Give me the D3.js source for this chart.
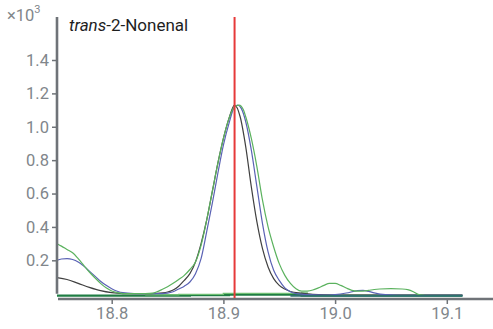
<!DOCTYPE html>
<html>
<head>
<meta charset="utf-8">
<script src="https://cdn.jsdelivr.net/npm/d3@7/dist/d3.min.js"></script>
<style>
  html, body { margin: 0; padding: 0; background: #fff; }
  svg { display: block; font-family: Roboto, "Noto Sans", sans-serif; }
</style>
</head>
<body>
<svg id="chart" width="493" height="329"></svg>
<script>
// Retention time (min) ticks and intensity ticks (×10³)
const xTicks = [18.8, 18.9, 19.0, 19.1];
const yTicks = [0.2, 0.4, 0.6, 0.8, 1.0, 1.2, 1.4];
const markerRT = 18.91;
const compound = "trans-2-Nonenal";

// Extracted ion traces: [retention time, intensity ×10³]
const traceBlack = [
  [18.751, 0.096], [18.76, 0.085], [18.77, 0.062], [18.78, 0.038], [18.79, 0.018],
  [18.80, 0.006], [18.81, 0.001], [18.82, 0], [18.83, 0], [18.84, 0.002],
  [18.85, 0.010], [18.855, 0.022], [18.86, 0.045], [18.865, 0.080], [18.87, 0.12],
  [18.875, 0.19], [18.88, 0.30], [18.885, 0.44], [18.89, 0.61], [18.895, 0.78],
  [18.90, 0.93], [18.905, 1.05], [18.91, 1.13], [18.915, 1.06], [18.92, 0.88],
  [18.925, 0.64], [18.93, 0.43], [18.935, 0.27], [18.94, 0.16], [18.945, 0.09],
  [18.95, 0.05], [18.955, 0.028], [18.96, 0.013], [18.97, 0.003], [18.98, -0.004],
  [19.00, -0.008], [19.114, -0.008]
];
const traceBlue = [
  [18.751, 0.200], [18.755, 0.208], [18.76, 0.21], [18.765, 0.205], [18.77, 0.19],
  [18.775, 0.165], [18.78, 0.135], [18.785, 0.105], [18.79, 0.075], [18.795, 0.05],
  [18.80, 0.03], [18.805, 0.015], [18.81, 0.006], [18.82, 0.001], [18.83, 0],
  [18.84, 0], [18.85, 0.004], [18.855, 0.012], [18.86, 0.028], [18.865, 0.045],
  [18.87, 0.07], [18.875, 0.12], [18.88, 0.21], [18.885, 0.37], [18.89, 0.54],
  [18.895, 0.72], [18.90, 0.89], [18.905, 1.02], [18.91, 1.12], [18.913, 1.13],
  [18.916, 1.11], [18.92, 1.03], [18.925, 0.86], [18.93, 0.64], [18.935, 0.42],
  [18.94, 0.25], [18.945, 0.14], [18.95, 0.08], [18.955, 0.035], [18.96, 0.012],
  [18.965, 0.0], [18.975, -0.006], [18.99, -0.008], [19.00, -0.005], [19.01, 0.004],
  [19.02, 0.018], [19.025, 0.02], [19.03, 0.014], [19.035, 0.005], [19.045, -0.006],
  [19.06, -0.01], [19.114, -0.01]
];
const traceGreen = [
  [18.751, 0.30], [18.755, 0.285], [18.76, 0.265], [18.765, 0.245], [18.77, 0.21],
  [18.775, 0.17], [18.78, 0.13], [18.785, 0.095], [18.79, 0.062], [18.795, 0.035],
  [18.80, 0.016], [18.805, 0.006], [18.81, 0.001], [18.82, 0], [18.83, 0],
  [18.837, 0.003], [18.84, 0.010], [18.845, 0.025], [18.85, 0.042], [18.855, 0.062],
  [18.86, 0.085], [18.865, 0.11], [18.87, 0.145], [18.875, 0.19], [18.88, 0.29],
  [18.885, 0.44], [18.89, 0.61], [18.895, 0.78], [18.90, 0.93], [18.905, 1.05],
  [18.91, 1.12], [18.914, 1.13], [18.918, 1.10], [18.92, 1.06], [18.925, 0.93],
  [18.93, 0.76], [18.935, 0.56], [18.94, 0.40], [18.945, 0.28], [18.95, 0.18],
  [18.955, 0.11], [18.96, 0.062], [18.965, 0.03], [18.97, 0.015], [18.975, 0.016],
  [18.98, 0.022], [18.985, 0.035], [18.99, 0.05], [18.995, 0.062], [19.00, 0.062],
  [19.005, 0.05], [19.01, 0.034], [19.015, 0.02], [19.02, 0.015], [19.025, 0.016],
  [19.03, 0.02], [19.035, 0.025], [19.04, 0.028], [19.05, 0.03], [19.06, 0.028],
  [19.065, 0.024], [19.07, 0.012], [19.075, -0.006], [19.08, -0.01]
];
// Near-zero qualifier traces along the baseline
const traceDarkGreen = [
  [18.751, -0.012], [18.87, -0.008], [18.905, -0.006], [18.95, -0.005], [18.97, -0.012], [19.114, -0.012]
];
const tracePaleGreen = [
  [18.83, -0.006], [18.86, -0.004], [18.90, 0.002], [18.97, 0.004], [18.975, -0.008]
];
const traceTeal = [
  [18.96, -0.013], [19.114, -0.013]
];

const svg = d3.select("#chart");

const x = d3.scaleLinear().domain([18.8, 19.1]).range([111.7, 446.8]);
const y = d3.scaleLinear().domain([0, 1.4]).range([293.7, 60]);

const axisColor = "#6f7378";
const labelColor = "#81868b";

// Traces
const line = d3.line()
  .x(d => x(d[0]))
  .y(d => y(d[1]))
  .curve(d3.curveMonotoneX);
const stepLine = d3.line()
  .x(d => x(d[0]))
  .y(d => y(d[1]))
  .curve(d3.curveStepAfter);

svg.append("path").datum(traceDarkGreen).attr("d", stepLine)
  .attr("fill", "none").attr("stroke", "#1f7d44").attr("stroke-width", 2.2);
svg.append("path").datum(tracePaleGreen).attr("d", stepLine)
  .attr("fill", "none").attr("stroke", "#6fbf73").attr("stroke-width", 1.4);

const series = [
  { data: traceBlack, color: "#404040" },
  { data: traceBlue, color: "#5a62b4" },
  { data: traceGreen, color: "#5bb25e" }
];
series.forEach(s => {
  svg.append("path").datum(s.data).attr("d", line)
    .attr("fill", "none").attr("stroke", s.color).attr("stroke-width", 1.2);
});

svg.append("path").datum(traceTeal).attr("d", stepLine)
  .attr("fill", "none").attr("stroke", "#2e7070").attr("stroke-width", 1.8);

// Y axis
const yAxis = svg.append("g").attr("transform", "translate(57,0)")
  .call(d3.axisLeft(y).tickValues(yTicks).tickSize(5).tickPadding(3)
    .tickFormat(d3.format(".1f")));
yAxis.select(".domain").remove();
yAxis.selectAll(".tick line").attr("stroke", axisColor).attr("stroke-width", 1.5);
yAxis.selectAll(".tick text").attr("fill", labelColor)
  .style("font-size", "16.5px").style("font-family", "Roboto, sans-serif");
svg.append("line").attr("x1", 57).attr("x2", 57).attr("y1", 17).attr("y2", y(0))
  .attr("stroke", axisColor).attr("stroke-width", 2.6);

// X axis
const xAxis = svg.append("g").attr("transform", "translate(0,299)")
  .call(d3.axisBottom(x).tickValues(xTicks).tickSize(5).tickPadding(3)
    .tickFormat(d3.format(".1f")));
xAxis.select(".domain").remove();
xAxis.selectAll(".tick line").attr("stroke", axisColor).attr("stroke-width", 1.5);
xAxis.selectAll(".tick text").attr("fill", labelColor)
  .style("font-size", "16.5px").style("font-family", "Roboto, sans-serif");
svg.append("line").attr("x1", 58).attr("x2", 493).attr("y1", 299).attr("y2", 299)
  .attr("stroke", axisColor).attr("stroke-width", 2.4);

// Retention time marker
svg.append("line")
  .attr("x1", x(markerRT)).attr("x2", x(markerRT))
  .attr("y1", 17).attr("y2", 298)
  .attr("stroke", "#e63a3a").attr("stroke-width", 2);

// Scale multiplier
const mult = svg.append("text").attr("x", 7).attr("y", 21)
  .attr("fill", labelColor).style("font-size", "16.5px");
mult.append("tspan").text("×10");
mult.append("tspan").attr("dy", -8).style("font-size", "11px").text("3");

// Compound name
const title = svg.append("text").attr("x", 69).attr("y", 31)
  .attr("fill", "#1e1e1e").style("font-size", "17px");
title.append("tspan").style("font-style", "italic").text(compound.split("-")[0]);
title.append("tspan").text(compound.slice(compound.indexOf("-")));
</script>
</body>
</html>
